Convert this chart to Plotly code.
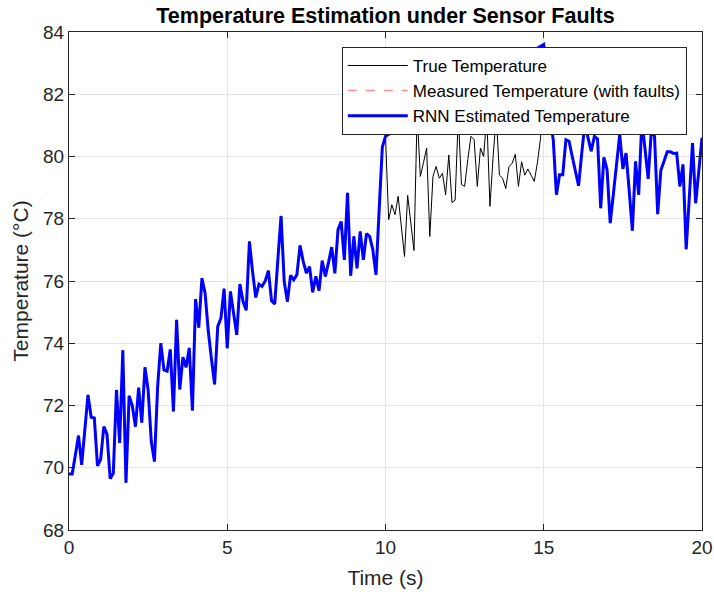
import plotly.graph_objects as go

# Time axis (s)
time = [round(i * 0.1, 1) for i in range(201)]

# True temperature (°C)
true_0_10 = [69.8, 69.8, 70.4, 71.03, 70.09, 71.2, 72.34, 71.62, 71.6, 70.06,
             70.27, 71.32, 71.08, 69.65, 69.82, 72.5, 70.8, 73.77, 69.52, 72.31,
             72.0, 71.32, 72.57, 71.45, 73.23, 72.5, 70.84, 70.2, 72.6, 74.0,
             73.14, 73.1, 73.8, 71.81, 74.75, 72.52, 73.55, 73.23, 73.85, 71.84,
             75.42, 74.5, 76.09, 75.61, 74.4, 73.5, 72.68, 74.54, 74.8, 75.75,
             73.84, 75.66, 75.0, 74.27, 75.9, 75.34, 75.06, 77.27, 76.3, 75.47,
             75.9, 75.83, 76.0, 76.33, 75.36, 75.26, 76.7, 78.09, 75.98, 75.34,
             76.18, 76.04, 76.2, 77.14, 76.63, 76.25, 76.46, 75.64, 76.15, 75.69,
             76.65, 76.15, 76.6, 77.09, 76.25, 77.65, 77.91, 76.68, 78.83, 76.17,
             77.43, 76.41, 77.59, 76.68, 77.52, 77.43, 77.0, 76.2, 78.3, 80.3]
true_10_15 = [80.65, 77.97, 78.45, 78.13, 78.72, 77.7, 76.79, 78.75, 77.9, 76.98,
              81.4, 79.36, 79.8, 80.27, 77.43, 79.36, 79.68, 79.3, 79.46, 78.77,
              80.05, 78.52, 78.6, 81.3, 79.1, 79.04, 79.9, 80.65, 80.54, 79.04,
              80.27, 80.0, 81.3, 78.4, 80.0, 81.3, 79.4, 79.3, 78.97, 79.67,
              79.78, 80.07, 79.04, 79.83, 79.4, 79.6, 79.4, 79.2, 79.8, 80.6]
true_15_20 = [83.6, 82.3, 81.2, 80.54, 78.77, 79.41, 79.41, 80.54, 80.49, 80.0,
              79.5, 79.06, 80.1, 81.08, 80.6, 80.17, 80.65, 80.56, 78.34, 79.97,
              79.58, 77.86, 78.8, 79.8, 80.7, 79.6, 80.11, 78.9, 77.62, 79.84,
              78.77, 81.18, 80.2, 79.28, 80.84, 80.65, 78.15, 79.56, 79.85, 80.15,
              80.15, 80.1, 80.11, 79.04, 79.74, 77.02, 78.7, 80.43, 78.5, 79.5,
              80.6]
true_temp = true_0_10 + true_10_15 + true_15_20

# Sensor fault window (s): measurements missing, RNN bridges the gap
fault_start, fault_end = 10.0, 15.0

measured = [v if (t <= fault_start or t >= fault_end) else None
            for t, v in zip(time, true_temp)]
rnn_est = [v if (t <= fault_start or t >= fault_end) else None
           for t, v in zip(time, true_temp)]

x_ticks = [0, 5, 10, 15, 20]
y_ticks = [68, 70, 72, 74, 76, 78, 80, 82, 84]

FONT = "Liberation Sans, Arial, Helvetica, sans-serif"
AX = "#262626"

fig = go.Figure()
fig.add_trace(go.Scatter(x=time, y=true_temp, mode="lines", name="True Temperature",
                         line=dict(color="black", width=1)))
fig.add_trace(go.Scatter(x=time, y=measured, mode="lines",
                         name="Measured Temperature (with faults)",
                         line=dict(color="rgba(255,110,110,0.8)", width=1.5, dash="dash")))
fig.add_trace(go.Scatter(x=time, y=rnn_est, mode="lines", name="RNN Estimated Temperature",
                         connectgaps=True, line=dict(color="#0000ff", width=3)))

axis_common = dict(showline=True, linecolor=AX, linewidth=1, mirror="ticks",
                   ticks="inside", ticklen=6, tickcolor=AX, tickwidth=1,
                   showgrid=True, gridcolor="#e5e5e5", gridwidth=1, zeroline=False,
                   automargin=False,
                   tickfont=dict(family=FONT, size=19, color=AX))

fig.update_layout(
    width=714, height=597,
    margin=dict(l=69, r=12, t=32, b=67),
    paper_bgcolor="white", plot_bgcolor="white",
    title=dict(text="<b>Temperature Estimation under Sensor Faults</b>",
               x=0.5, xref="paper", xanchor="center",
               y=1 - 15 / 597, yref="container", yanchor="middle",
               font=dict(family=FONT, size=21.5, color="black")),
    xaxis=dict(range=[0, 20], tickvals=x_ticks,
               title=dict(text="Time (s)", font=dict(family=FONT, size=21, color=AX), standoff=13),
               **axis_common),
    yaxis=dict(range=[68, 84], tickvals=y_ticks,
               title=dict(text="Temperature (°C)", font=dict(family=FONT, size=21, color=AX), standoff=8),
               **axis_common),
    legend=dict(x=0.976, y=0.97, xanchor="right", yanchor="top",
                bgcolor="white", bordercolor=AX, borderwidth=1,
                font=dict(family=FONT, size=17, color="black"),
                itemwidth=60, tracegroupgap=0,
                traceorder="normal"),
    showlegend=True,
)

fig.write_html("out.html")
